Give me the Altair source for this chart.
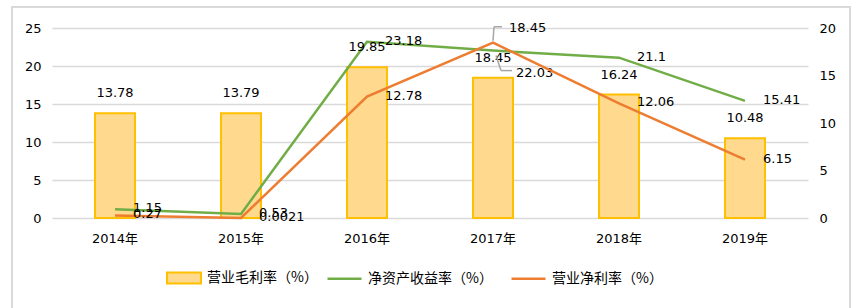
import altair as alt
import pandas as pd

years = ["2014年", "2015年", "2016年", "2017年", "2018年", "2019年"]
gross = [13.78, 13.79, 19.85, 18.45, 16.24, 10.48]
roe = [1.15, 0.53, 23.18, 22.03, 21.1, 15.41]
net = [0.27, 0.0021, 12.78, 18.45, 12.06, 6.15]
series = ["营业毛利率（%）", "净资产收益率（%）", "营业净利率（%）"]
colors = ["#FED98E", "#70AD47", "#ED7D31"]

df = pd.DataFrame({
    "year": years,
    "gross": gross,
    "roe": roe,
    "net": net,
    "gross_lbl": [str(v) for v in gross],
    "roe_lbl": [str(v) for v in roe],
    "net_lbl": [str(v) for v in net],
})

NUMFONT = "DejaVu Sans, Noto Sans CJK SC"
CJK = "Noto Sans CJK SC"

base = alt.Chart(df)

xenc = alt.X(
    "year:N", sort=years,
    scale=alt.Scale(paddingInner=0, paddingOuter=0),
    axis=alt.Axis(title=None, labelAngle=0, ticks=False, tickSize=0, domain=False,
                  labelPadding=14, labelFontSize=13, labelFont=NUMFONT, labelColor="#000"),
)

yleft_axis = alt.Axis(title=None, values=[0, 5, 10, 15, 20, 25], tickCount=6, grid=True,
                      gridColor="#D9D9D9", gridWidth=1.5, domain=False, ticks=False, tickSize=0,
                      labelPadding=11, labelOverlap=False, labelFontSize=13, labelFont=NUMFONT,
                      labelColor="#000")
yleft_scale = alt.Scale(domain=[0, 25], nice=False)

yright_axis = alt.Axis(title=None, orient="right", values=[0, 5, 10, 15, 20], tickCount=5,
                       grid=False, domain=False, ticks=False, tickSize=0, labelPadding=11,
                       labelOverlap=False, labelFontSize=13, labelFont=NUMFONT, labelColor="#000")
yright_scale = alt.Scale(domain=[0, 20], nice=False)


def yl(field):
    return alt.Y(field, type="quantitative", scale=yleft_scale, axis=yleft_axis)


def yr(field):
    return alt.Y(field, type="quantitative", scale=yright_scale, axis=yright_axis)


fill_legend = alt.Legend(
    title=None, orient="none", legendX=114, legendY=232, direction="horizontal",
    symbolType="M-1,-0.32H1V0.32H-1Z", symbolSize=1156, symbolStrokeColor="#FFC000",
    symbolStrokeWidth=2, symbolOpacity=1,
    labelFontSize=14, labelFont=CJK, labelColor="#000", labelOffset=5,
)
stroke_legend = alt.Legend(
    title=None, orient="none", legendX=274, legendY=232, direction="horizontal",
    symbolType="M-1,0H1", symbolSize=1156, symbolStrokeWidth=2.5,
    labelFontSize=14, labelFont=CJK, labelColor="#000", labelOffset=5, columnPadding=13,
)
fill_scale = alt.Scale(domain=series[:1], range=colors[:1])
stroke_scale = alt.Scale(domain=series[1:], range=colors[1:])

frame = alt.Chart(pd.DataFrame({"a": [0]})).mark_rect(
    filled=False, stroke="#D9D9D9", strokeWidth=2
).encode(x=alt.value(-40), x2=alt.value(798), y=alt.value(-21), y2=alt.value(285))

bars = base.transform_calculate(s="'营业毛利率（%）'").mark_bar(
    size=40, stroke="#FFC000", strokeWidth=2, opacity=1
).encode(
    x=xenc,
    y=yl("gross"),
    fill=alt.Fill("s:N", scale=fill_scale, legend=fill_legend),
)

bar_text = base.mark_text(dy=-20, fontSize=13, font=NUMFONT, color="#000").encode(
    x=xenc, y=yl("gross"), text="gross_lbl:N"
)

green = base.transform_calculate(s="'净资产收益率（%）'").mark_line(strokeWidth=2.5).encode(
    x=xenc, y=yl("roe"),
    stroke=alt.Stroke("s:N", scale=stroke_scale, legend=stroke_legend),
)

green_text = base.transform_filter("datum.year != '2017年'").mark_text(
    align="left", dx=18, dy=-1, fontSize=13, font=NUMFONT, color="#000"
).encode(x=xenc, y=yl("roe"), text="roe_lbl:N")

green_text17 = base.transform_filter("datum.year == '2017年'").mark_text(
    align="left", dx=23, dy=22, fontSize=13, font=NUMFONT, color="#000"
).encode(x=xenc, y=yl("roe"), text="roe_lbl:N")

green_lead1 = base.transform_filter("datum.year == '2017年'").mark_rule(
    color="#A6A6A6", strokeWidth=1.5, xOffset=3, yOffset=5, x2Offset=8, y2Offset=20
).encode(x=xenc, x2=alt.X2("year:N"), y=yl("roe"), y2=alt.Y2("roe:Q"))

green_lead2 = base.transform_filter("datum.year == '2017年'").mark_rule(
    color="#A6A6A6", strokeWidth=1.5, xOffset=8, yOffset=20, x2Offset=19, y2Offset=20
).encode(x=xenc, x2=alt.X2("year:N"), y=yl("roe"), y2=alt.Y2("roe:Q"))

left = alt.layer(frame, bars, green, bar_text, green_text, green_text17, green_lead1, green_lead2)

orange = base.transform_calculate(s="'营业净利率（%）'").mark_line(strokeWidth=2.5).encode(
    x=xenc, y=yr("net"),
    stroke=alt.Stroke("s:N", scale=stroke_scale, legend=stroke_legend),
)

orange_text = base.transform_filter("datum.year != '2017年'").mark_text(
    align="left", dx=18, dy=-1, fontSize=13, font=NUMFONT, color="#000"
).encode(x=xenc, y=yr("net"), text="net_lbl:N")

orange_text17 = base.transform_filter("datum.year == '2017年'").mark_text(
    align="left", dx=16, dy=-15, fontSize=13, font=NUMFONT, color="#000"
).encode(x=xenc, y=yr("net"), text="net_lbl:N")

orange_lead1 = base.transform_filter("datum.year == '2017年'").mark_rule(
    color="#A6A6A6", strokeWidth=1.5, xOffset=0, yOffset=-2, x2Offset=1, y2Offset=-16
).encode(x=xenc, x2=alt.X2("year:N"), y=yr("net"), y2=alt.Y2("net:Q"))

orange_lead2 = base.transform_filter("datum.year == '2017年'").mark_rule(
    color="#A6A6A6", strokeWidth=1.5, xOffset=1, yOffset=-16, x2Offset=9, y2Offset=-16
).encode(x=xenc, x2=alt.X2("year:N"), y=yr("net"), y2=alt.Y2("net:Q"))

right = alt.layer(orange, orange_text, orange_text17, orange_lead1, orange_lead2)

chart = alt.layer(left, right).resolve_scale(y="independent").properties(
    width=756, height=190,
    padding={"left": 52, "top": 28, "right": 47, "bottom": 90},
    autosize=alt.AutoSizeParams(type="none"),
    background="white",
).configure_view(stroke=None)

chart.save("out.html", embed_options={"renderer": "svg", "actions": False})
